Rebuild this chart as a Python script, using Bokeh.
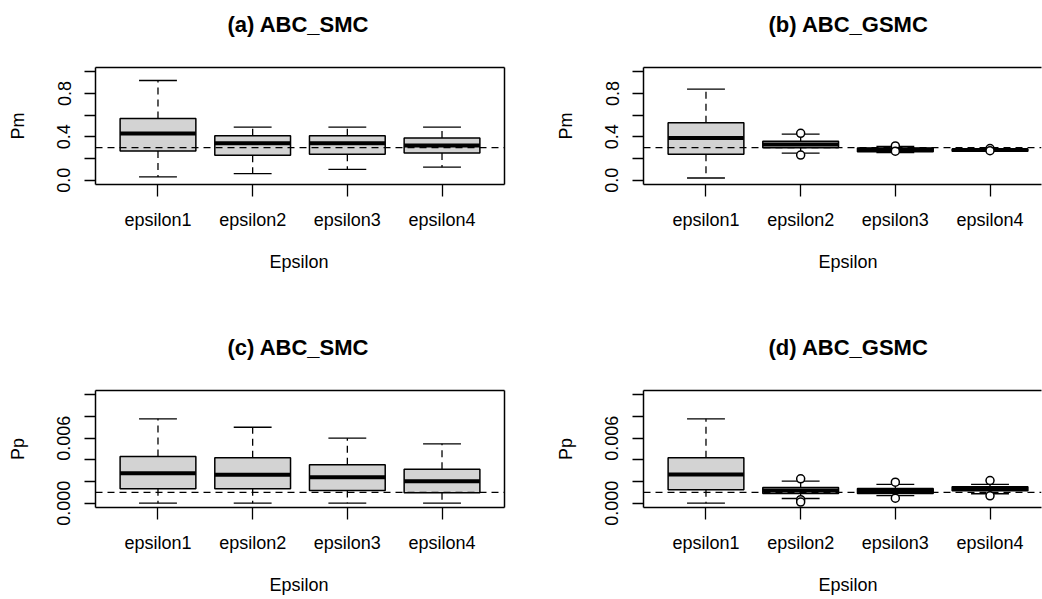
from bokeh.plotting import figure
from bokeh.layouts import gridplot
from bokeh.models import Range1d, FixedTicker, Span, Title, LinearAxis
from bokeh.embed import file_html
from bokeh.resources import INLINE

# ---------------- data ----------------
categories = ["epsilon1", "epsilon2", "epsilon3", "epsilon4"]

# (a) ABC_SMC, Pm
a_lower = [0.03, 0.06, 0.10, 0.12]
a_q1 = [0.27, 0.23, 0.24, 0.25]
a_median = [0.43, 0.34, 0.34, 0.32]
a_q3 = [0.57, 0.41, 0.41, 0.39]
a_upper = [0.92, 0.49, 0.49, 0.49]
a_outliers = [[], [], [], []]

# (b) ABC_GSMC, Pm
b_lower = [0.02, 0.25, 0.255, 0.266]
b_q1 = [0.24, 0.30, 0.262, 0.268]
b_median = [0.39, 0.33, 0.28, 0.278]
b_q3 = [0.53, 0.36, 0.298, 0.288]
b_upper = [0.84, 0.425, 0.312, 0.29]
b_outliers = [[], [0.432, 0.232], [0.316, 0.268], [0.292, 0.272]]

# (c) ABC_SMC, Pp
c_lower = [0.0, 0.0, 0.0, 0.0]
c_q1 = [0.00133, 0.00133, 0.00117, 0.00096]
c_median = [0.00277, 0.00262, 0.0024, 0.00203]
c_q3 = [0.00431, 0.00419, 0.00354, 0.00314]
c_upper = [0.00779, 0.00701, 0.0060, 0.00548]
c_outliers = [[], [], [], []]

# (d) ABC_GSMC, Pp
d_lower = [0.0, 0.00043, 0.0007, 0.00087]
d_q1 = [0.00124, 0.00090, 0.00090, 0.00114]
d_median = [0.00265, 0.00118, 0.00112, 0.0013]
d_q3 = [0.00419, 0.00145, 0.00136, 0.00151]
d_upper = [0.00779, 0.00203, 0.00173, 0.00173]
d_outliers = [[], [0.00225, 0.00032, 0.0001], [0.00194, 0.00046], [0.00209, 0.00068]]

pm_ticks = [0.0, 0.2, 0.4, 0.6, 0.8, 1.0]
pm_labels = ["0.0", "", "0.4", "", "0.8", ""]
pp_ticks = [0.0, 0.002, 0.004, 0.006, 0.008, 0.010]
pp_labels = ["0.000", "", "", "0.006", "", ""]
pm_true = 0.3
pp_true = 0.001

FONT = "Liberation Sans"
DASH = "7 5"


def edge_axis():
    ax = LinearAxis()
    ax.ticker = FixedTicker(ticks=[])
    ax.major_tick_out = 0
    ax.major_tick_in = 0
    ax.minor_tick_out = 0
    ax.minor_tick_in = 0
    ax.major_label_text_font_size = "0px"
    ax.major_label_standoff = 0
    ax.axis_line_color = "black"
    ax.axis_line_width = 1.5
    return ax


def spacer_axis(space, pos):
    # invisible axis used only to reserve vertical space
    ax = LinearAxis()
    ax.ticker = FixedTicker(ticks=[pos])
    ax.major_label_overrides = {pos: ""}
    ax.major_tick_out = space
    ax.major_tick_in = 0
    ax.minor_tick_out = 0
    ax.minor_tick_in = 0
    ax.major_tick_line_color = "white"
    ax.major_tick_line_alpha = 0.01
    ax.major_label_text_font_size = "0px"
    ax.major_label_standoff = 0
    ax.axis_line_color = None
    return ax


def panel(title, title_offset, ylab, lower, q1, med, q3, upper, outliers,
          ref, yticks, ylabels, ylim, right_col, top_row):
    xs = [i + 1 for i in range(len(categories))]
    pad_x = 0.04 * (len(categories))
    x0 = 0.5 - pad_x
    full_w = 409
    unit = full_w / (len(categories) + 2 * pad_x)
    fw = 398 if right_col else full_w
    x1 = x0 + fw / unit
    span = ylim[1] - ylim[0]
    p = figure(
        frame_width=fw, frame_height=117,
        x_range=Range1d(x0, x1),
        y_range=Range1d(ylim[0] - 0.04 * span, ylim[1] + 0.04 * span),
        output_backend="svg", toolbar_location=None,
        min_border_left=122 if right_col else 95,
        min_border_right=1 if right_col else 17,
        min_border_top=67 if top_row else 90,
        min_border_bottom=116 if top_row else 92,
        background_fill_color="white", border_fill_color="white",
    )
    p.title.visible = False
    p.title.text = ""
    p.outline_line_color = None
    p.grid.visible = False

    # x axis
    xa = p.xaxis[0]
    xa.ticker = FixedTicker(ticks=xs)
    xa.major_label_overrides = {x: c for x, c in zip(xs, categories)}
    xa.major_tick_out = 12
    xa.major_tick_in = 0
    xa.minor_tick_out = 0
    xa.major_tick_line_width = 1.3
    xa.major_label_standoff = 13
    xa.major_label_text_font = FONT
    xa.major_label_text_font_size = "18px"
    xa.major_label_text_color = "black"
    xa.axis_line_color = "black"
    xa.axis_line_width = 1.5

    # y axis
    ya = p.yaxis[0]
    ya.ticker = FixedTicker(ticks=yticks)
    ya.major_label_overrides = {t: l for t, l in zip(yticks, ylabels)}
    ya.major_label_orientation = "vertical"
    ya.major_tick_out = 11
    ya.major_tick_in = 0
    ya.minor_tick_out = 0
    ya.major_tick_line_width = 1.3
    ya.major_label_standoff = 14
    ya.major_label_text_font = FONT
    ya.major_label_text_font_size = "18px"
    ya.major_label_text_color = "black"
    ya.axis_label = ylab
    ya.axis_label_text_font = FONT
    ya.axis_label_text_font_size = "18px"
    ya.axis_label_text_font_style = "normal"
    ya.axis_label_text_color = "black"
    ya.axis_label_standoff = 27
    ya.axis_line_color = "black"
    ya.axis_line_width = 1.5

    # top edge of the box, spacing, then the panel title
    p.add_layout(edge_axis(), "above")
    p.add_layout(spacer_axis(28, x0), "above")
    p.add_layout(Title(text=title, align="left", offset=title_offset,
                       text_font=FONT, text_font_size="22px", text_font_style="bold",
                       text_color="black", standoff=6), "above")
    if not right_col:
        p.add_layout(edge_axis(), "right")

    # spacing, then the x axis title
    p.add_layout(spacer_axis(17, x0), "below")
    p.add_layout(Title(text="Epsilon", align="left",
                       offset=title_offset + 42 if not right_col else title_offset + 50,
                       text_font=FONT, text_font_size="18px", text_font_style="normal",
                       text_color="black", standoff=0), "below")

    # whiskers
    p.segment(x0=xs, y0=q3, x1=xs, y1=upper, line_color="black", line_width=1.3, line_dash=DASH)
    p.segment(x0=xs, y0=q1, x1=xs, y1=lower, line_color="black", line_width=1.3, line_dash=DASH)
    # caps
    p.segment(x0=[x - 0.2 for x in xs], y0=upper, x1=[x + 0.2 for x in xs], y1=upper,
              line_color="black", line_width=1.3)
    p.segment(x0=[x - 0.2 for x in xs], y0=lower, x1=[x + 0.2 for x in xs], y1=lower,
              line_color="black", line_width=1.3)
    # boxes
    p.vbar(x=xs, width=0.8, top=q3, bottom=q1, fill_color="#d3d3d3",
           line_color="black", line_width=1.5)
    # medians
    p.segment(x0=[x - 0.4 for x in xs], y0=med, x1=[x + 0.4 for x in xs], y1=med,
              line_color="black", line_width=4, line_cap="butt")
    # outliers
    ox, oy = [], []
    for x, vals in zip(xs, outliers):
        for v in vals:
            ox.append(x)
            oy.append(v)
    if ox:
        p.scatter(x=ox, y=oy, size=8, marker="circle", fill_color="white",
                  line_color="black", line_width=1.5)

    p.add_layout(Span(location=ref, dimension="width", line_color="black",
                      line_width=1.3, line_dash=DASH))
    return p


pa = panel("(a) ABC_SMC", 132, "Pm", a_lower, a_q1, a_median, a_q3, a_upper, a_outliers,
           pm_true, pm_ticks, pm_labels, (0.0, 1.0), False, True)
pb = panel("(b) ABC_GSMC", 125, "Pm", b_lower, b_q1, b_median, b_q3, b_upper, b_outliers,
           pm_true, pm_ticks, pm_labels, (0.0, 1.0), True, True)
pc = panel("(c) ABC_SMC", 132, "Pp", c_lower, c_q1, c_median, c_q3, c_upper, c_outliers,
           pp_true, pp_ticks, pp_labels, (0.0, 0.01), False, False)
pd_ = panel("(d) ABC_GSMC", 125, "Pp", d_lower, d_q1, d_median, d_q3, d_upper, d_outliers,
            pp_true, pp_ticks, pp_labels, (0.0, 0.01), True, False)

grid = gridplot([[pa, pb], [pc, pd_]], toolbar_location=None)

open("out.html", "w").write(file_html(grid, INLINE))
